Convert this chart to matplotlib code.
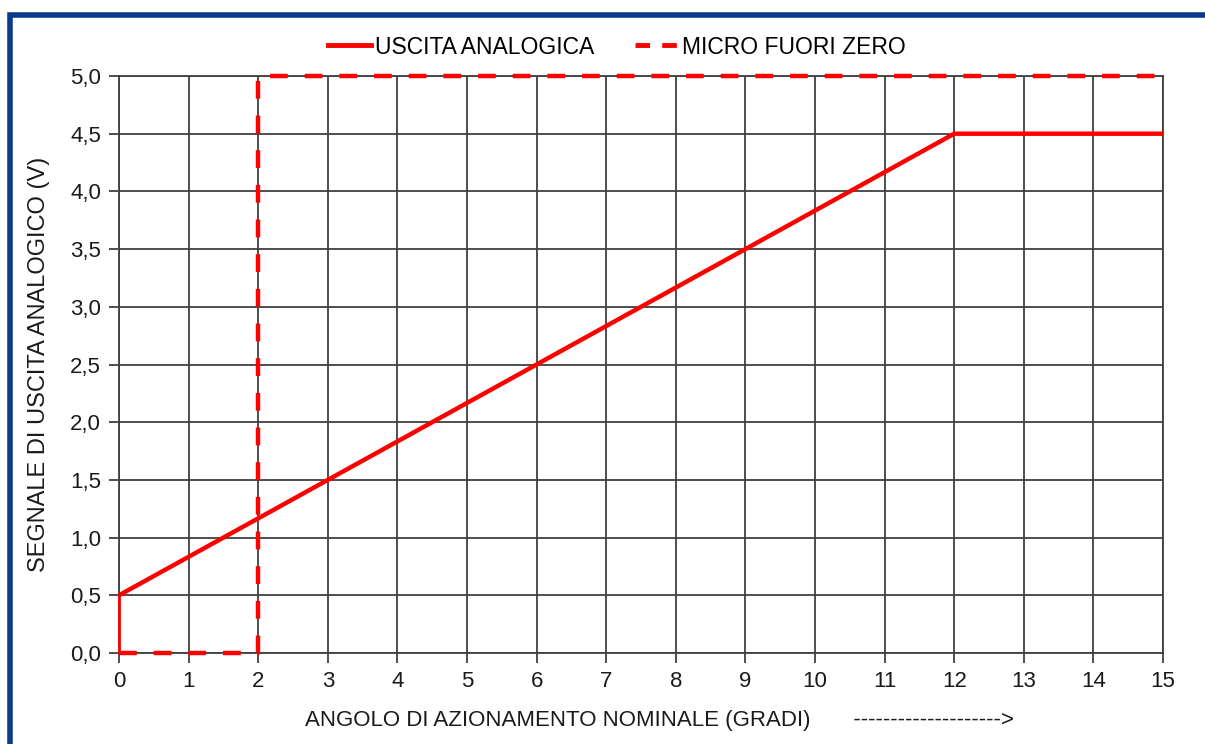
import matplotlib
matplotlib.use("Agg")
import matplotlib.pyplot as plt
from matplotlib.patches import Rectangle
from matplotlib.lines import Line2D
from matplotlib.ticker import FuncFormatter

plt.rcParams['font.family'] = ['Liberation Sans', 'DejaVu Sans']

# data
uscita_x = [0, 0, 12, 15]
uscita_y = [0, 0.5, 4.5, 4.5]
micro_x = [0, 2, 2, 15]
micro_y = [0, 0, 5, 5]
x_ticks = list(range(0, 16))
y_ticks = [0, 0.5, 1, 1.5, 2, 2.5, 3, 3.5, 4, 4.5, 5]

RED = '#ff0000'
GRID = '#404040'
TXT = '#1a1a1a'

fig = plt.figure(figsize=(12.05, 7.44), dpi=100)
fig.patches.append(Rectangle((10/1205, -0.05), 1.1, 1 - 15/744 + 0.05, transform=fig.transFigure,
                             fill=False, edgecolor='#0a3a8c', linewidth=4, zorder=0))

ax = fig.add_axes([119/1205, 1 - 653/744, (1163 - 119)/1205, (653 - 76)/744])
ax.set_xlim(0, 15)
ax.set_ylim(0, 5)
ax.set_xticks(x_ticks)
ax.set_yticks(y_ticks)
ax.yaxis.set_major_formatter(FuncFormatter(lambda v, p: f"{v:.1f}".replace('.', ',')))
ax.grid(True, color=GRID, linewidth=1.3)
for s in ax.spines.values():
    s.set_color(GRID)
    s.set_linewidth(1.3)
ax.tick_params(axis='both', length=7, width=1.3, color=GRID, labelsize=16, labelcolor=TXT)
ax.tick_params(axis='x', pad=6)
ax.tick_params(axis='y', pad=6)

# solid series: thin initial vertical, then thick
ax.plot(uscita_x[:2], uscita_y[:2], color=RED, linewidth=2, solid_capstyle='butt', zorder=3, clip_on=False)
ax.plot(uscita_x[1:], uscita_y[1:], color=RED, linewidth=3.2, solid_capstyle='butt', zorder=3, clip_on=False)
ax.plot(micro_x, micro_y, color=RED, linewidth=3.2, linestyle=(0, (4, 3.8)), zorder=3, clip_on=False)

ax.set_xlabel("ANGOLO DI AZIONAMENTO NOMINALE (GRADI)       -------------------->",
              fontsize=16, labelpad=13, color=TXT)
ax.xaxis.label.set_x(0.518)
ax.set_ylabel("SEGNALE DI USCITA ANALOGICO (V)", fontsize=17, labelpad=14, color=TXT)

handles = [Line2D([], [], color=RED, linewidth=3.5),
           Line2D([], [], color=RED, linewidth=3.5, linestyle=(0, (3, 2.5)))]
fig.legend(handles, ["USCITA ANALOGICA", "MICRO FUORI ZERO"], loc='center',
           bbox_to_anchor=(617/1205, 1 - 47/744), ncol=2, frameon=False, fontsize=16.5,
           handlelength=1.9, handletextpad=0.15, columnspacing=1.8)

fig.savefig("out.png", dpi=100)
